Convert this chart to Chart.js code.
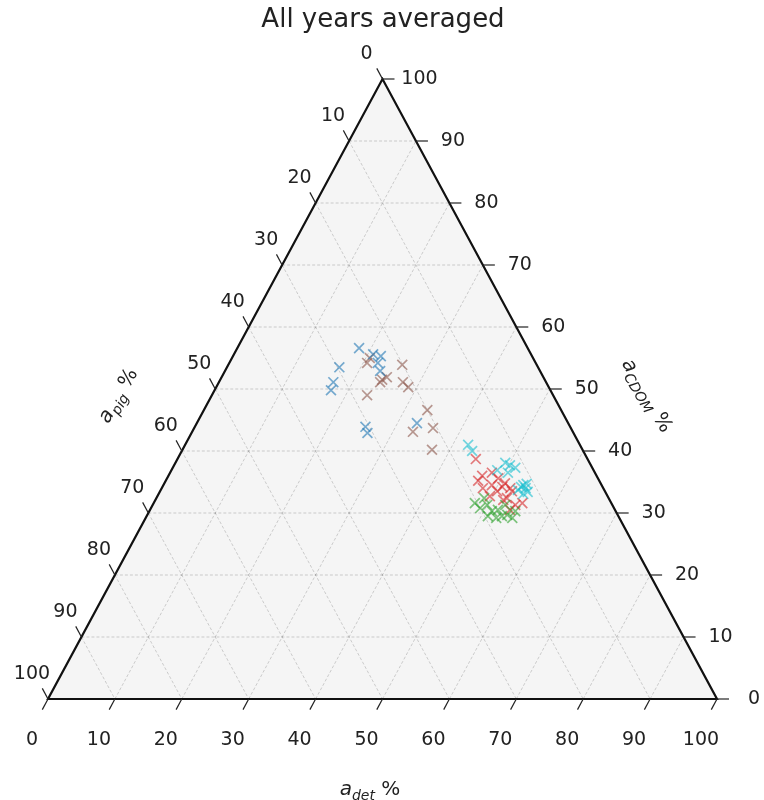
<!DOCTYPE html>
<html>
<head>
<meta charset="utf-8">
<script src="https://cdn.jsdelivr.net/npm/chart.js@4.4.0/dist/chart.umd.min.js"></script>
<style>
  body { margin: 0; background: #fff; }
</style>
</head>
<body>
<canvas id="ternChart" width="764" height="800"></canvas>
<script>
// 값: a_det %, a_CDOM % (a_pig % = 100 - 둘의 합)
const ticks = [0, 10, 20, 30, 40, 50, 60, 70, 80, 90, 100];

const detBlue  = [18.2, 20.8, 22.1, 22.2, 23.2, 16.8, 17.1, 17.4, 25.5, 26.3, 32.9];
const cdomBlue = [56.6, 55.6, 55.3, 54.2, 52.9, 53.5, 51.1, 49.8, 43.9, 42.9, 44.5];

const detBrown  = [20.6, 20.6, 24.2, 24.7, 24.1, 23.2, 26.0, 27.5, 28.7, 33.4, 35.7, 33.0, 37.3];
const cdomBrown = [54.2, 55.0, 51.5, 51.9, 51.1, 49.0, 53.9, 51.1, 50.3, 46.6, 43.7, 43.1, 40.2];

const detCyan  = [42.3, 43.4, 49.3, 50.2, 51.2, 50.5, 48.7, 53.8, 54.4, 53.6, 55.0, 54.5, 53.4, 54.2];
const cdomCyan = [41.0, 40.0, 38.1, 37.7, 37.3, 36.5, 36.9, 34.5, 34.0, 34.2, 33.4, 33.1, 33.7, 34.7];

const detGreen  = [48.0, 49.2, 50.0, 51.2, 52.0, 53.1, 51.0, 52.7, 53.8, 54.7, 49.0, 52.4, 54.8];
const cdomGreen = [31.6, 30.8, 31.3, 30.3, 30.5, 29.5, 29.5, 31.3, 29.7, 30.3, 32.4, 29.2, 29.2];

const detRed  = [44.6, 46.9, 48.1, 49.5, 50.9, 50.8, 52.1, 52.6, 46.7, 48.0, 49.1, 50.4, 49.7, 52.4, 54.2, 55.1, 53.8, 52.0];
const cdomRed = [38.7, 36.0, 36.5, 35.6, 34.8, 34.2, 34.0, 33.5, 35.2, 34.0, 34.5, 33.5, 32.7, 32.4, 31.3, 31.6, 30.5, 32.1];

// 삼각 좌표 -> 직교 좌표
function toXY(det, cdom) {
    return det.map((d, i) => ({ x: d + cdom[i] / 2, y: cdom[i] }));
}

function crossSet(det, cdom, color) {
    return {
        data: toXY(det, cdom),
        pointStyle: 'crossRot',
        pointRadius: 7,
        pointBorderWidth: 1.7,
        borderColor: color,
        backgroundColor: color,
        showLine: false
    };
}

function drawAxisLabel(ctx, cx, cy, angle, sub) {
    const big = 'italic 20px "DejaVu Sans"';
    const small = 'italic 14px "DejaVu Sans"';
    const norm = '20px "DejaVu Sans"';
    ctx.save();
    ctx.translate(cx, cy);
    ctx.rotate(angle);
    ctx.fillStyle = '#222';
    ctx.textBaseline = 'alphabetic';
    ctx.textAlign = 'left';
    ctx.font = big; const wa = ctx.measureText('a').width;
    ctx.font = small; const ws = ctx.measureText(sub).width;
    ctx.font = norm; const wp = ctx.measureText(' %').width;
    let x0 = -(wa + ws + wp) / 2;
    ctx.font = big; ctx.fillText('a', x0, 7);
    ctx.font = small; ctx.fillText(sub, x0 + wa, 12);
    ctx.font = norm; ctx.fillText(' %', x0 + wa + ws, 7);
    ctx.restore();
}

const ternaryPlugin = {
    id: 'ternary',
    beforeDatasetsDraw(chart) {
        const { ctx, scales: { x, y } } = chart;
        const P = (d, c) => [x.getPixelForValue(d + c / 2), y.getPixelForValue(c)];
        const A = P(0, 0), B = P(100, 0), C = P(0, 100);

        ctx.save();
        // 배경
        ctx.beginPath();
        ctx.moveTo(A[0], A[1]); ctx.lineTo(B[0], B[1]); ctx.lineTo(C[0], C[1]);
        ctx.closePath();
        ctx.fillStyle = '#f5f5f5';
        ctx.fill();

        // 격자
        ctx.strokeStyle = 'rgba(0, 0, 0, 0.22)';
        ctx.lineWidth = 0.8;
        ctx.setLineDash([3, 2]);
        const line = (p, q) => { ctx.beginPath(); ctx.moveTo(p[0], p[1]); ctx.lineTo(q[0], q[1]); ctx.stroke(); };
        for (let v = 10; v < 100; v += 10) {
            line(P(0, v), P(100 - v, v));
            line(P(v, 0), P(v, 100 - v));
            line(P(0, 100 - v), P(100 - v, 0));
        }
        ctx.setLineDash([]);

        // 테두리
        ctx.strokeStyle = '#111';
        ctx.lineWidth = 2.2;
        ctx.beginPath();
        ctx.moveTo(A[0], A[1]); ctx.lineTo(B[0], B[1]); ctx.lineTo(C[0], C[1]);
        ctx.closePath();
        ctx.stroke();

        // 눈금
        ctx.strokeStyle = '#222';
        ctx.lineWidth = 1.2;
        ctx.fillStyle = '#222';
        ctx.font = '19px "DejaVu Sans"';
        ctx.textAlign = 'center';
        ctx.textBaseline = 'middle';
        ticks.forEach(v => {
            // 아래: a_det
            let p = P(v, 0);
            line(p, [p[0] - 5.7, p[1] + 10.6]);
            ctx.fillText(String(v), p[0] - 16, p[1] + 41);
            // 오른쪽: a_CDOM
            p = P(100 - v, v);
            line(p, [p[0] + 12, p[1]]);
            ctx.fillText(String(v), p[0] + 37, p[1]);
            // 왼쪽: a_pig
            p = P(0, 100 - v);
            line(p, [p[0] - 5.7, p[1] - 10.6]);
            ctx.fillText(String(v), p[0] - 16, p[1] - 25);
        });
        ctx.restore();
    },
    afterDraw(chart) {
        const { ctx } = chart;
        ctx.save();
        ctx.fillStyle = '#222';
        ctx.font = '26px "DejaVu Sans"';
        ctx.textAlign = 'center';
        ctx.textBaseline = 'middle';
        ctx.fillText('All years averaged', 383, 20);
        ctx.restore();
        drawAxisLabel(ctx, 370, 788, 0, 'det');
        drawAxisLabel(ctx, 117, 395, -Math.PI / 3, 'pig');
        drawAxisLabel(ctx, 648, 395, Math.PI / 3, 'CDOM');
    }
};

document.addEventListener('DOMContentLoaded', function() {
    const ctx = document.getElementById('ternChart');
    new Chart(ctx, {
        type: 'scatter',
        data: {
            datasets: [
                crossSet(detBlue, cdomBlue, 'rgba(31, 119, 180, 0.6)'),
                crossSet(detBrown, cdomBrown, 'rgba(140, 86, 75, 0.6)'),
                crossSet(detCyan, cdomCyan, 'rgba(23, 190, 207, 0.6)'),
                crossSet(detGreen, cdomGreen, 'rgba(44, 160, 44, 0.6)'),
                crossSet(detRed, cdomRed, 'rgba(214, 39, 40, 0.6)')
            ]
        },
        options: {
            responsive: false,
            animation: false,
            layout: { padding: { left: 48, right: 47, top: 79, bottom: 101 } },
            plugins: {
                legend: { display: false },
                tooltip: { enabled: false },
                title: { display: false }
            },
            scales: {
                x: { type: 'linear', min: 0, max: 100, display: false },
                y: { type: 'linear', min: 0, max: 100, display: false }
            }
        },
        plugins: [ternaryPlugin]
    });
});
</script>
</body>
</html>
